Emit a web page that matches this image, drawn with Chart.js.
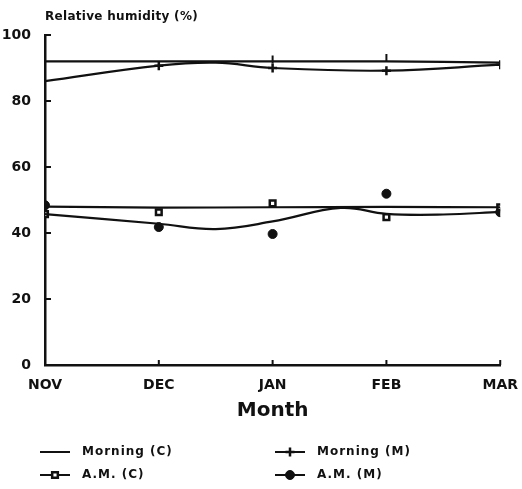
<!DOCTYPE html>
<html>
<head>
<meta charset="utf-8">
<script src="https://cdn.jsdelivr.net/npm/chart.js@4.4.0/dist/chart.umd.min.js"></script>
<style>
  body { margin: 0; background: #fff; }
</style>
</head>
<body>
<canvas id="humChart" width="522" height="489"></canvas>
<script>
// months on the x axis (x value = index)
var months = ["NOV", "DEC", "JAN", "FEB", "MAR"];
var yTicks = [0, 20, 40, 60, 80, 100];
var seriesNames = ["Morning (C)", "Morning (M)", "A.M. (C)", "A.M. (M)"];

// fitted curves (x = month index, some half-month points for the bends)
var morningCX = [0, 1, 2, 3, 4];
var morningCLine = [92, 92, 92, 92, 91.6];
var morningMX = [0, 1, 1.5, 2, 3, 4];
var morningMLine = [86, 90.7, 91.6, 90, 89.2, 91];
var amCX = [0, 1, 2, 3, 4];
var amCLine = [48, 47.7, 47.8, 47.9, 47.8];
var amMX = [0, 1, 1.5, 2, 2.6, 3, 3.5, 4];
var amMLine = [45.7, 42.8, 41.2, 43.5, 47.6, 45.8, 45.6, 46.4];

// measured points, one per month
var morningCPts = [null, null, 92.6, 93, null];
var morningMPts = [null, 90.7, 90, 89.2, 91];
var amCPts = [45.7, 46.3, 49, 44.8, 47.8];
var amMPts = [48.4, 41.8, 39.7, 51.9, 46.3];

// marker look for each series (used by plot and legend)
var markers = [
    { pointStyle: "line", rotation: 90, radius: 4, borderWidth: 2, fill: "#111" },
    { pointStyle: "cross", rotation: 0, radius: 4.5, borderWidth: 2.5, fill: "#111" },
    { pointStyle: "rect", rotation: 0, radius: 4, borderWidth: 2.5, fill: "#fff" },
    { pointStyle: "circle", rotation: 0, radius: 4.5, borderWidth: 1, fill: "#111" }
];

function toXY(xs, ys) {
    var out = [];
    for (var i = 0; i < xs.length; i++) {
        if (ys[i] !== null) out.push({ x: xs[i], y: ys[i] });
    }
    return out;
}

function curve(label, xs, ys) {
    return {
        label: label,
        data: toXY(xs, ys),
        showLine: true,
        tension: 0.4,
        borderColor: "#111",
        borderWidth: 2.2,
        pointRadius: 0,
        fill: false
    };
}

function dots(label, ys, m) {
    return {
        label: label + " pts",
        data: toXY([0, 1, 2, 3, 4], ys),
        showLine: false,
        pointStyle: m.pointStyle,
        rotation: m.rotation,
        pointRadius: m.radius,
        pointBorderWidth: m.borderWidth,
        pointBorderColor: "#111",
        pointBackgroundColor: m.fill
    };
}

var boldFont = "'DejaVu Sans', sans-serif";

// inner tick marks, y-title and the 2x2 legend
var decorPlugin = {
    id: "decor",
    afterDraw: function(chart) {
        var ctx = chart.ctx;
        var area = chart.chartArea;
        var xs = chart.scales.x, ys = chart.scales.y;
        ctx.save();
        ctx.strokeStyle = "#111";
        ctx.lineWidth = 2;
        ctx.beginPath();
        yTicks.forEach(function(v) {
            if (v === 0) return;
            var py = ys.getPixelForValue(v);
            ctx.moveTo(area.left, py);
            ctx.lineTo(area.left + 6, py);
        });
        for (var i = 1; i < months.length; i++) {
            var px = xs.getPixelForValue(i);
            ctx.moveTo(px, area.bottom);
            ctx.lineTo(px, area.bottom - 5);
        }
        ctx.stroke();

        // y axis title above the axis
        ctx.fillStyle = "#111";
        ctx.font = "bold 12px " + boldFont;
        ctx.letterSpacing = "0.3px";
        ctx.textAlign = "left";
        ctx.textBaseline = "middle";
        ctx.fillText("Relative humidity (%)", area.left, 17);

        // legend
        var cols = [40, 275];
        var rows = [452, 475];
        ctx.font = "bold 12px " + boldFont;
        ctx.letterSpacing = "1px";
        for (var k = 0; k < seriesNames.length; k++) {
            var lx = cols[k % 2];
            var ly = rows[Math.floor(k / 2)];
            ctx.strokeStyle = "#111";
            ctx.lineWidth = 2;
            ctx.beginPath();
            ctx.moveTo(lx, ly);
            ctx.lineTo(lx + 30, ly);
            ctx.stroke();
            if (k > 0) {
                var m = markers[k];
                ctx.fillStyle = m.fill;
                ctx.lineWidth = m.borderWidth;
                Chart.helpers.drawPoint(ctx, {
                    pointStyle: m.pointStyle, rotation: m.rotation,
                    radius: m.radius, borderWidth: m.borderWidth
                }, lx + 15, ly);
            }
            ctx.fillStyle = "#111";
            ctx.fillText(seriesNames[k], lx + 42, ly);
        }
        ctx.restore();
    }
};

new Chart(document.getElementById("humChart"), {
    type: "scatter",
    data: {
        datasets: [
            curve(seriesNames[0], morningCX, morningCLine),
            curve(seriesNames[1], morningMX, morningMLine),
            curve(seriesNames[2], amCX, amCLine),
            curve(seriesNames[3], amMX, amMLine),
            dots(seriesNames[0], morningCPts, markers[0]),
            dots(seriesNames[1], morningMPts, markers[1]),
            dots(seriesNames[2], amCPts, markers[2]),
            dots(seriesNames[3], amMPts, markers[3])
        ]
    },
    options: {
        responsive: false,
        animation: false,
        layout: { padding: { top: 35, right: 20, bottom: 62, left: 0 } },
        plugins: {
            legend: { display: false },
            tooltip: { enabled: false }
        },
        scales: {
            x: {
                type: "linear",
                min: 0,
                max: 4,
                afterBuildTicks: function(scale) {
                    scale.ticks = months.map(function(m, i) { return { value: i }; });
                },
                afterFit: function(scale) { scale.height = 62; },
                grid: { display: false },
                border: { display: true, color: "#111", width: 2.5 },
                ticks: {
                    color: "#111",
                    padding: 4,
                    maxRotation: 0,
                    font: { family: boldFont, size: 14, weight: "bold" },
                    callback: function(v) { return months[v]; }
                },
                title: {
                    display: true,
                    text: "Month",
                    color: "#111",
                    padding: { top: 0, bottom: 4 },
                    font: { family: boldFont, size: 20, weight: "bold" }
                }
            },
            y: {
                min: 0,
                max: 100,
                afterBuildTicks: function(scale) {
                    scale.ticks = yTicks.map(function(v) { return { value: v }; });
                },
                afterFit: function(scale) { scale.width = 45; },
                grid: { display: false },
                border: { display: true, color: "#111", width: 2.5 },
                ticks: {
                    color: "#111",
                    padding: 6,
                    font: { family: boldFont, size: 14, weight: "bold" }
                }
            }
        }
    },
    plugins: [decorPlugin]
});
</script>
</body>
</html>
